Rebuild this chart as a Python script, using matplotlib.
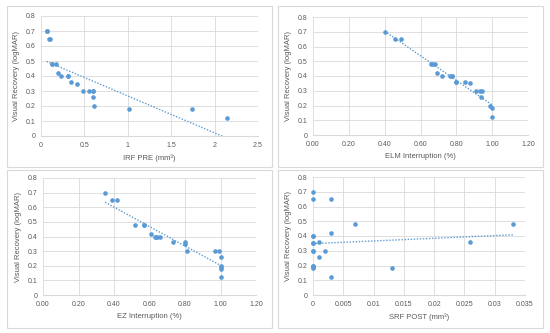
import numpy as np
import matplotlib
matplotlib.use("Agg")
import matplotlib.pyplot as plt
from matplotlib.patches import Rectangle

plt.rcParams['font.family'] = ['Liberation Sans', 'DejaVu Sans']

# Visual recovery (logMAR) values shared by all panels
irf_x = [0.065, 0.07, 0.09, 0.10, 0.13, 0.17, 0.13, 0.195, 0.225, 0.31, 0.31, 0.35,
         0.42, 0.48, 0.55, 0.595, 0.60, 0.61, 1.01, 1.735, 2.14, 0.60]
irf_y = [0.70, 0.70, 0.65, 0.65, 0.48, 0.48, 0.48, 0.42, 0.40, 0.40, 0.40, 0.36,
         0.35, 0.30, 0.30, 0.30, 0.26, 0.20, 0.18, 0.18, 0.12, 0.30]

elm_x = [0.40, 0.46, 0.49, 0.657, 0.668, 0.679, 0.69, 0.72, 0.766, 0.777, 0.80, 0.85,
         0.878, 0.91, 0.932, 0.943, 0.937, 0.99, 0.999, 1.0, 0.775, 0.80]
elm_y = [0.70, 0.65, 0.65, 0.48, 0.48, 0.48, 0.42, 0.40, 0.40, 0.40, 0.36, 0.36,
         0.35, 0.30, 0.30, 0.30, 0.26, 0.20, 0.18, 0.12, 0.40, 0.36]

ez_x = [0.35, 0.39, 0.415, 0.517, 0.57, 0.607, 0.63, 0.638, 0.658, 0.73, 0.80, 0.80,
        0.81, 0.97, 0.99, 1.0, 1.0, 1.0, 1.0, 0.57, 1.0, 0.64]
ez_y = [0.70, 0.65, 0.65, 0.48, 0.48, 0.42, 0.40, 0.40, 0.40, 0.36, 0.36, 0.35,
        0.30, 0.30, 0.30, 0.26, 0.20, 0.18, 0.12, 0.48, 0.19, 0.40]

srf_x = [0.0, 0.0, 0.003, 0.007, 0.033, 0.003, 0.0, 0.001, 0.0, 0.026, 0.0, 0.002,
         0.001, 0.0, 0.0, 0.0, 0.013, 0.003, 0.0, 0.0, 0.0, 0.0]
srf_y = [0.70, 0.65, 0.65, 0.48, 0.48, 0.42, 0.40, 0.36, 0.35, 0.36, 0.30, 0.30,
         0.26, 0.20, 0.19, 0.18, 0.18, 0.12, 0.40, 0.35, 0.30, 0.20]

y_ticks = [0, 0.1, 0.2, 0.3, 0.4, 0.5, 0.6, 0.7, 0.8]
y_labels = ["0", "0.1", "0.2", "0.3", "0.4", "0.5", "0.6", "0.7", "0.8"]

irf_ticks = [0, 0.5, 1, 1.5, 2, 2.5]
irf_labels = ["0", "0.5", "1", "1.5", "2", "2.5"]
pct_ticks = [0, 0.2, 0.4, 0.6, 0.8, 1.0, 1.2]
pct_labels = ["0.00", "0.20", "0.40", "0.60", "0.80", "1.00", "1.20"]
srf_ticks = [0, 0.005, 0.01, 0.015, 0.02, 0.025, 0.03, 0.035]
srf_labels = ["0", "0.005", "0.01", "0.015", "0.02", "0.025", "0.03", "0.035"]

x_titles = ["IRF PRE (mm³)", "ELM Interruption (%)", "EZ Interruption (%)", "SRF POST (mm³)"]
y_title = "Visual Recovery (logMAR)"

W, H = 550, 333
fig = plt.figure(figsize=(5.5, 3.33), dpi=100)

BLUE = "#5B9BD5"
GRID = "#D9D9D9"
TXT = "#595959"

def frac_rect(x0, y0, x1, y1):
    return [x0 / W, 1 - y1 / H, (x1 - x0) / W, (y1 - y0) / H]

# panel frames
for (x0, y0, x1, y1) in [(7, 6, 272, 167), (278, 6, 543, 167), (7, 170, 272, 328), (278, 170, 543, 328)]:
    fig.add_artist(Rectangle((x0 / W, 1 - y1 / H), (x1 - x0) / W, (y1 - y0) / H,
                             transform=fig.transFigure, fill=False, edgecolor=GRID, lw=0.8))

panels = [
    (frac_rect(41, 16, 258, 136), irf_x, irf_y, irf_ticks, irf_labels, x_titles[0]),
    (frac_rect(313, 17, 528, 135), elm_x, elm_y, pct_ticks, pct_labels, x_titles[1]),
    (frac_rect(43, 178, 256, 295), ez_x, ez_y, pct_ticks, pct_labels, x_titles[2]),
    (frac_rect(313, 177, 525, 295), srf_x, srf_y, srf_ticks, srf_labels, x_titles[3]),
]

for rect, xs, ys, xt, xl, xtitle in panels:
    ax = fig.add_axes(rect)
    xs = np.array(xs)
    ys = np.array(ys)
    ax.set_xlim(xt[0], xt[-1])
    ax.set_ylim(0, 0.8)
    ax.set_xticks(xt)
    ax.set_xticklabels(xl)
    ax.set_yticks(y_ticks)
    ax.set_yticklabels(y_labels)
    ax.grid(True, color=GRID, lw=0.6)
    ax.set_axisbelow(True)
    for s in ["top", "right", "left"]:
        ax.spines[s].set_visible(False)
    ax.spines["bottom"].set_color(GRID)
    ax.spines["bottom"].set_linewidth(0.8)
    ax.tick_params(length=0, labelsize=5, colors=TXT, pad=4)
    ax.set_xlabel(xtitle, fontsize=5.5, color=TXT, labelpad=4)
    ax.set_ylabel(y_title, fontsize=5.5, color=TXT, labelpad=4)
    # linear trend
    m, b = np.polyfit(xs, ys, 1)
    lx = np.array([xs.min(), xs.max()])
    ax.plot(lx, m * lx + b, linestyle=(0, (1, 1.2)), color=BLUE, lw=1.0, clip_on=True)
    ax.scatter(xs, ys, s=11, color=BLUE, zorder=3, clip_on=False, linewidths=0)

fig.savefig("out.png", dpi=100)
